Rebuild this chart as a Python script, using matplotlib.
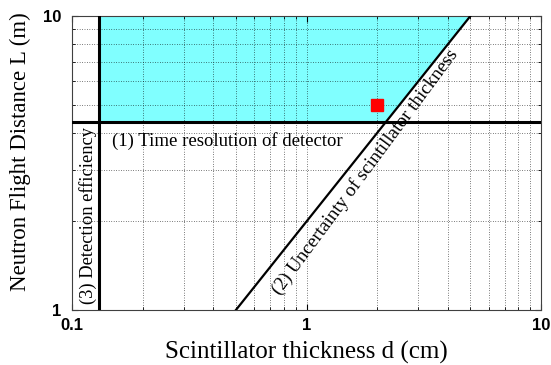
import matplotlib.pyplot as plt
import numpy as np
from matplotlib.ticker import LogLocator, FixedLocator, NullFormatter

# limits
d_min_eff = 0.13          # (3) detection efficiency limit, cm
L_min_time = 4.35         # (1) time resolution limit, m
line_d = [0.5, 5.0]       # (2) uncertainty of scintillator thickness
line_L = [1.0, 10.0]
point_d = [2.0]
point_L = [5.0]

x_ticks = [0.1, 1, 10]
x_labels = ['0.1', '1', '10']
y_ticks = [1, 10]
y_labels = ['1', '10']

serif = 'Liberation Serif'
sans = 'Liberation Sans'

fig = plt.figure(figsize=(5.51, 3.65), dpi=100)
ax = fig.add_axes([72/551, 55/365, 469/551, 294/365])
ax.set_xscale('log')
ax.set_yscale('log')
ax.set_xlim(0.1, 10)
ax.set_ylim(1, 10)

# feasible region
d_cross = line_d[0] * L_min_time / line_L[0]
poly_d = [d_min_eff, d_cross, line_d[1], d_min_eff]
poly_L = [L_min_time, L_min_time, line_L[1], line_L[1]]
ax.fill(poly_d, poly_L, color='#80ffff', lw=0, zorder=1)

ax.axvline(d_min_eff, color='k', lw=2.2, zorder=3)
ax.axhline(L_min_time, color='k', lw=2.2, zorder=3)
ax.plot(line_d, line_L, color='k', lw=1.6, zorder=3)
ax.plot(point_d, point_L, 's', color='red', ms=8.5, mec='red', zorder=4)

ax.text(0.148, 3.76, '(1) Time resolution of detector', family=serif,
        fontsize=13.5, ha='left', va='center')
ax.text(0.117, 2.1, '(3) Detection efficiency', family=serif,
        fontsize=13.3, rotation=90, ha='center', va='center')
ax.text(1.78, 2.95, '(2) Uncertainty of scintillator thickness', family=serif,
        fontsize=13.8, rotation=53.5, ha='center', va='center',
        rotation_mode='anchor')

ax.xaxis.set_major_locator(FixedLocator(x_ticks))
ax.yaxis.set_major_locator(FixedLocator(y_ticks))
ax.set_xticklabels(x_labels, family=sans, fontweight='bold', fontsize=12)
ax.set_yticklabels(y_labels, family=sans, fontweight='bold', fontsize=12)
ax.xaxis.set_minor_locator(LogLocator(base=10, subs=np.arange(2, 10)))
ax.yaxis.set_minor_locator(LogLocator(base=10, subs=np.arange(2, 10)))
ax.xaxis.set_minor_formatter(NullFormatter())
ax.yaxis.set_minor_formatter(NullFormatter())
ax.tick_params(which='both', direction='in', top=True, right=True)
ax.tick_params(which='major', length=4)
ax.tick_params(axis='x', which='major', pad=6)
ax.tick_params(axis='y', which='major', pad=8)
ax.tick_params(which='minor', length=2)
ax.grid(True, which='both', color='k', ls=(0, (1, 2.5)), lw=0.5)

for s in ax.spines.values():
    s.set_linewidth(0.8)
    s.set_color('#404040')

fig.text(306.5/551, 1 - 352/365, 'Scintillator thickness d (cm)', family=serif,
         fontsize=18, ha='center', va='center')
fig.text(20/551, 1 - 152/365, 'Neutron Flight Distance L (m)', family=serif,
         fontsize=16.5, rotation=90, ha='center', va='center')

fig.savefig('out.png', dpi=100)
